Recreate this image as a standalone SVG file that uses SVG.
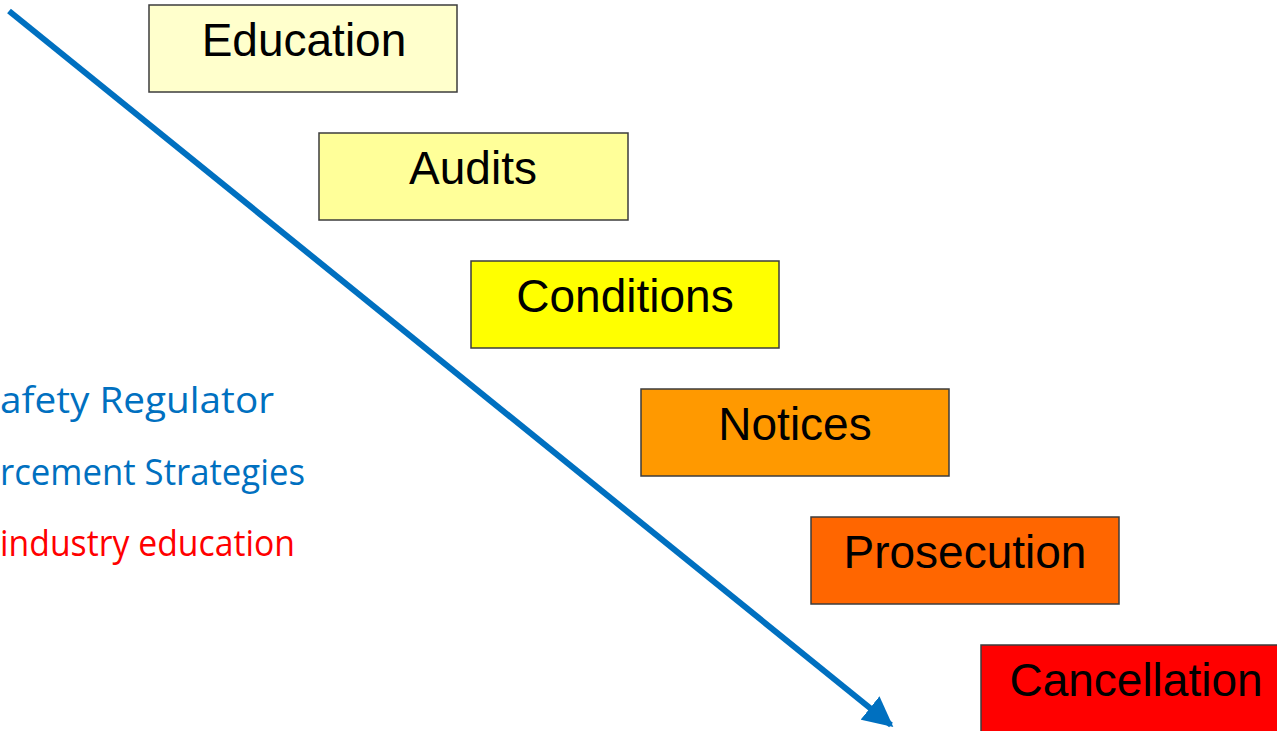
<svg xmlns="http://www.w3.org/2000/svg" width="1277" height="731" viewBox="0 0 1277 731">
<defs>
<style>
.box{stroke:#3c3c3c;stroke-width:1.5}
.lbl{font-family:"Liberation Sans",Arial,sans-serif;font-size:46px;fill:#000;text-anchor:middle}
.side{font-family:"Open Sans","DejaVu Sans",sans-serif;font-size:37px;font-weight:500}
</style>
<marker id="ah" viewBox="0 0 10 10" refX="9" refY="5" markerWidth="5" markerHeight="5" orient="auto" markerUnits="strokeWidth">
<path d="M0,0 L10,5 L0,10 Z" fill="#0070C0"/>
</marker>
</defs>
<rect width="1277" height="731" fill="#fff"/>
<g id="side-text">
<text class="side" x="0" y="413" fill="#0070C0" textLength="274" lengthAdjust="spacingAndGlyphs">afety Regulator</text>
<text class="side" x="0" y="485" fill="#0070C0" textLength="305" lengthAdjust="spacingAndGlyphs">rcement Strategies</text>
<text class="side" x="0" y="556" fill="#FF0000" textLength="295" lengthAdjust="spacingAndGlyphs">industry education</text>
</g>
<g id="node-education"><rect class="box" x="149" y="5" width="308" height="87" fill="#FFFFCC"/><text class="lbl" x="304" y="56">Education</text></g>
<g id="node-audits"><rect class="box" x="319" y="133" width="309" height="87" fill="#FFFF99"/><text class="lbl" x="473" y="184">Audits</text></g>
<g id="node-conditions"><rect class="box" x="471" y="261" width="308" height="87" fill="#FFFF00"/><text class="lbl" x="625" y="312">Conditions</text></g>
<g id="node-notices"><rect class="box" x="641" y="389" width="308" height="87" fill="#FF9900"/><text class="lbl" x="795" y="440">Notices</text></g>
<g id="node-prosecution"><rect class="box" x="811" y="517" width="308" height="87" fill="#FF6600"/><text class="lbl" x="965" y="568">Prosecution</text></g>
<g id="node-cancellation"><rect class="box" x="981" y="645" width="308" height="90" fill="#FF0000"/><text class="lbl" x="1136" y="696">Cancellation</text></g>
<g id="connectors">
<line x1="9" y1="11" x2="891" y2="725" stroke="#0070C0" stroke-width="6" marker-end="url(#ah)"/>
</g>
</svg>
